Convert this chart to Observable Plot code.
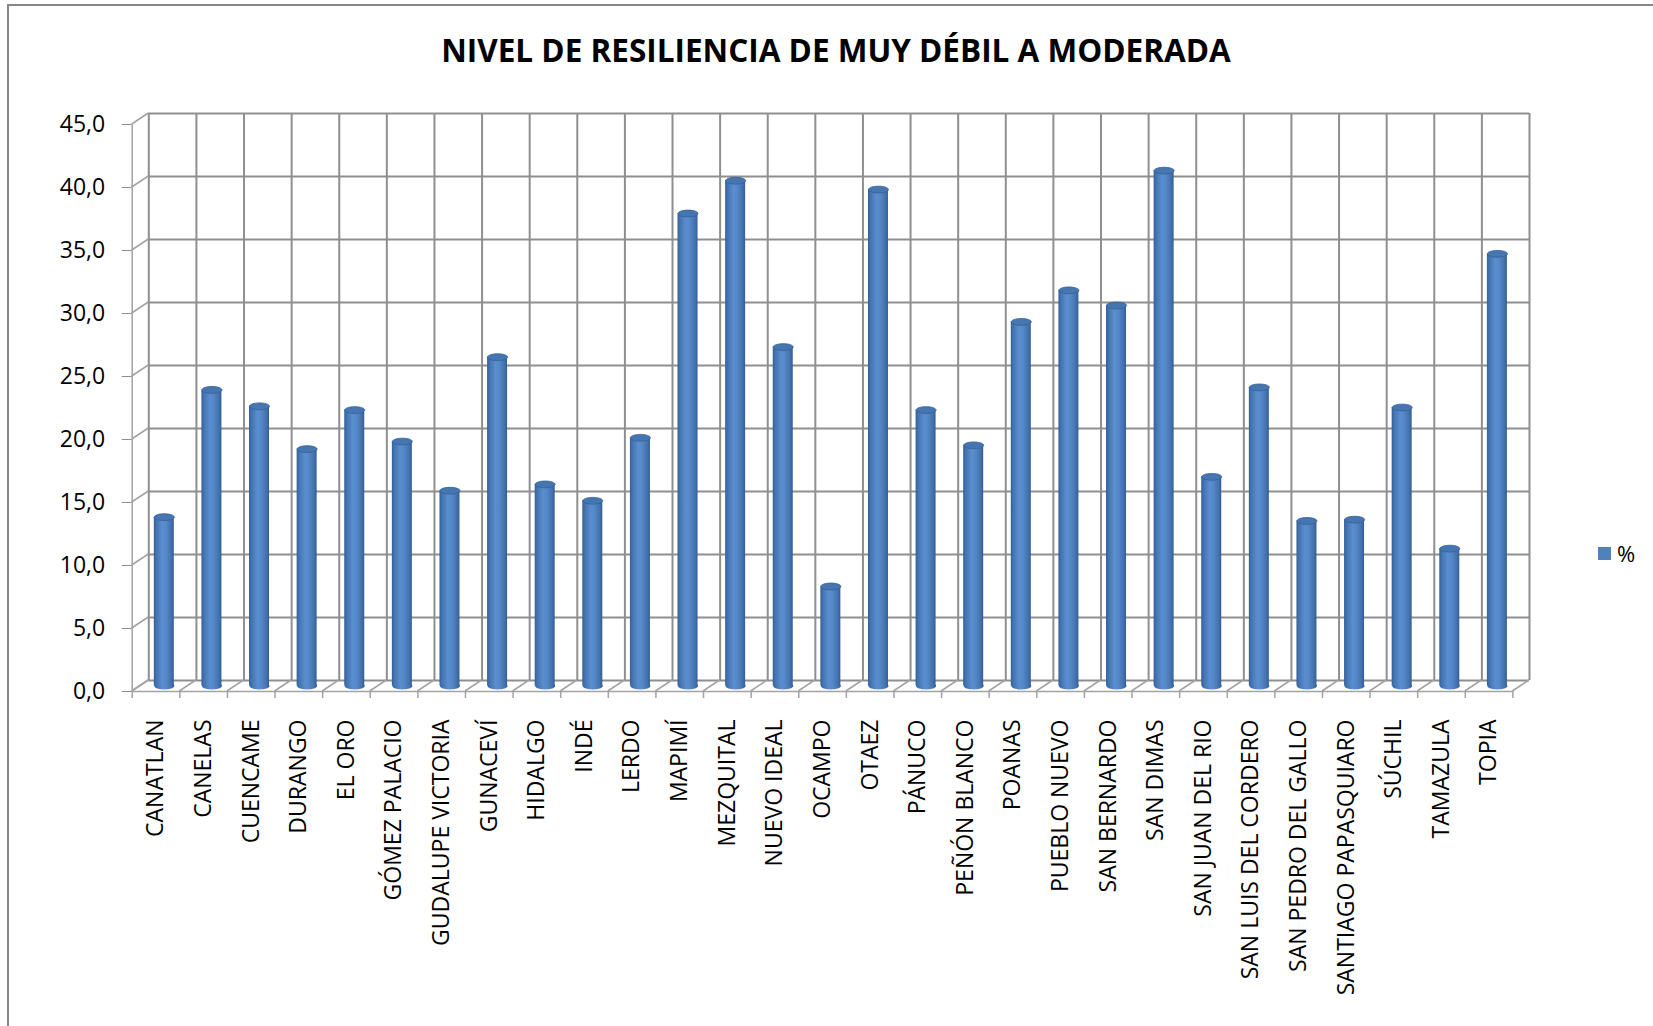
<!DOCTYPE html>
<html>
<head>
<meta charset="utf-8">
<script src="https://cdn.jsdelivr.net/npm/d3@7"></script>
<script src="https://cdn.jsdelivr.net/npm/@observablehq/plot@0.6"></script>
<style>
  html, body { margin: 0; padding: 0; background: #fff; overflow: hidden; }
  body { width: 1653px; height: 1026px; position: relative; font-family: "Open Sans", sans-serif; }
  #frame { position: absolute; left: 7px; top: 4px; width: 1700px; height: 1100px; border: 2px solid #878787; box-sizing: border-box; pointer-events: none; }
  #title { height: 95px; position: relative; }
  #title span { position: absolute; left: 836px; top: 34px; transform: translateX(-50%); font-weight: 700; font-size: 31.5px; line-height: 31.5px; white-space: nowrap; color: #000; }
  #legend { position: absolute; left: 1598px; top: 540px; height: 26px; display: flex; align-items: center; font-size: 22px; color: #000; }
  #legend i { display: inline-block; width: 13px; height: 13px; background: #4f81bd; margin-right: 6px; }
  #chart svg g[aria-label="y-axis"] line, #chart svg g[aria-label="y-axis tick"] { stroke: #8f8f8f; }
  #chart svg g[aria-label="y-axis"] path.domain { display: none; }
</style>
</head>
<body>
<div id="title"><span>NIVEL DE RESILIENCIA DE MUY DÉBIL A MODERADA</span></div>
<div id="chart"></div>
<div id="legend"><i></i>%</div>
<div id="frame"></div>
<script>
// ---- data ----
const categories = ["CANATLAN","CANELAS","CUENCAME","DURANGO","EL ORO","GÓMEZ PALACIO","GUDALUPE VICTORIA","GUNACEVÍ","HIDALGO","INDÉ","LERDO","MAPIMÍ","MEZQUITAL","NUEVO IDEAL","OCAMPO","OTAEZ","PÁNUCO","PEÑÓN BLANCO","POANAS","PUEBLO NUEVO","SAN BERNARDO","SAN DIMAS","SAN JUAN DEL RIO","SAN LUIS DEL CORDERO","SAN PEDRO DEL GALLO","SANTIAGO PAPASQUIARO","SÚCHIL","TAMAZULA","TOPIA"];
const values = [13.4, 23.5, 22.2, 18.8, 21.9, 19.4, 15.5, 26.1, 16.0, 14.7, 19.7, 37.5, 40.1, 26.9, 7.9, 39.4, 21.9, 19.1, 28.9, 31.4, 30.2, 40.9, 16.6, 23.7, 13.1, 13.2, 22.1, 10.9, 34.3];
const yTicks = [0, 5, 10, 15, 20, 25, 30, 35, 40, 45];
const seriesName = "%";

// ---- derived ----
const data = categories.map((c, i) => ({category: c, i, value: values[i]}));
const n = categories.length;
const bounds = d3.range(n + 1);           // category boundaries
const centers = d3.range(n).map(i => i + 0.5);

// 3-D projection offsets (pixels)
const BACK = {dx: 16.6, dy: -11};
const MID = {dx: BACK.dx / 2, dy: BACK.dy / 2};
const gridColor = "#8f8f8f";

const ellipse = {
  draw(ctx) {
    const rx = 10, ry = 3.4, k = 0.5523;
    ctx.moveTo(-rx, 0);
    ctx.bezierCurveTo(-rx, -ry * k, -rx * k, -ry, 0, -ry);
    ctx.bezierCurveTo(rx * k, -ry, rx, -ry * k, rx, 0);
    ctx.bezierCurveTo(rx, ry * k, rx * k, ry, 0, ry);
    ctx.bezierCurveTo(-rx * k, ry, -rx, ry * k, -rx, 0);
    ctx.closePath();
  }
};

const defs = () => {
  const g = d3.create("svg:g");
  const lg = g.append("defs").append("linearGradient")
    .attr("id", "cyl").attr("x1", 0).attr("x2", 1).attr("y1", 0).attr("y2", 0);
  [[0, "#35609a"], [0.14, "#4575b2"], [0.42, "#5a8ed0"], [0.6, "#5688c8"], [0.86, "#4473ae"], [1, "#345d93"]]
    .forEach(([o, c]) => lg.append("stop").attr("offset", o).attr("stop-color", c));
  return g.node();
};

const diagonals = (index, scales) => {
  const {x, y} = scales;
  const g = d3.create("svg:g").attr("stroke", "#a3a3a3").attr("stroke-width", 1.5).attr("fill", "none");
  for (const b of bounds)
    g.append("line").attr("x1", x(b)).attr("y1", y(0)).attr("x2", x(b) + BACK.dx).attr("y2", y(0) + BACK.dy);
  for (const v of yTicks)
    g.append("line").attr("x1", x(0)).attr("y1", y(v)).attr("x2", x(0) + BACK.dx).attr("y2", y(v) + BACK.dy);
  return g.node();
};

const chart = Plot.plot({
  width: 1653,
  height: 931,
  marginTop: 29,
  marginBottom: 335,
  marginLeft: 131.7,
  marginRight: 140.6,
  style: {fontFamily: "Open Sans, sans-serif", fontSize: "23px", color: "#000", background: "transparent", overflow: "visible"},
  x: {
    type: "linear",
    domain: [0, n],
    ticks: centers,
    tickFormat: d => categories[Math.floor(d)],
    tickSize: 0,
    tickPadding: 28,
    tickRotate: -90,
    label: null
  },
  y: {
    domain: [0, 45],
    ticks: yTicks,
    tickFormat: d => d.toFixed(1).replace(".", ","),
    tickSize: 10,
    tickPadding: 17,
    label: null
  },
  marks: [
    defs,
    // back wall grid
    Plot.ruleY(yTicks, {y: d => d, x1: 0, x2: n, dx: BACK.dx, dy: BACK.dy, stroke: gridColor, strokeWidth: 2}),
    Plot.ruleX(bounds, {x: d => d, y1: 0, y2: 45, dx: BACK.dx, dy: BACK.dy, stroke: gridColor, strokeWidth: 2}),
    // floor & side-wall depth lines
    diagonals,
    // front axis lines and category tick marks
    Plot.ruleX([0], {y1: 0, y2: 45, stroke: "#a3a3a3", strokeWidth: 1.5}),
    Plot.ruleY([0], {x1: 0, x2: n, stroke: "#a3a3a3", strokeWidth: 1.5}),
    Plot.ruleX(bounds, {x: d => d, y1: 0, y2: 0, insetBottom: -7, stroke: "#a3a3a3", strokeWidth: 1.5}),
    // cylinders
    Plot.dot(data, {x: d => d.i + 0.5, y: 0, symbol: ellipse, fill: "url(#cyl)", stroke: "none", dx: MID.dx, dy: MID.dy}),
    Plot.rectY(data, {x1: d => d.i, x2: d => d.i + 1, y: "value", insetLeft: 13.8, insetRight: 13.8, fill: "url(#cyl)", dx: MID.dx, dy: MID.dy}),
    Plot.dot(data, {x: d => d.i + 0.5, y: "value", symbol: ellipse, fill: "#4676b0", stroke: "#35609a", strokeWidth: 0.8, dx: MID.dx, dy: MID.dy})
  ]
});
document.getElementById("chart").appendChild(chart);
document.querySelector("#legend").lastChild.textContent = seriesName;
</script>
</body>
</html>
